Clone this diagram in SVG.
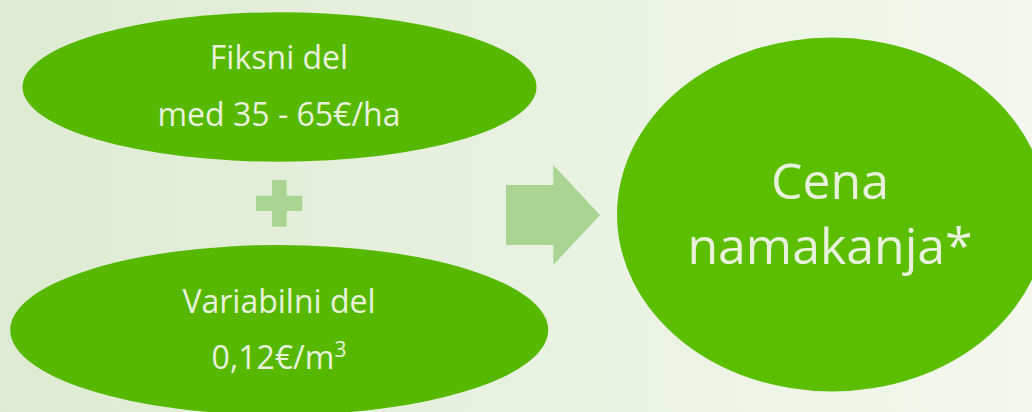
<svg xmlns="http://www.w3.org/2000/svg" width="1032" height="412" viewBox="0 0 1032 412">
  <defs>
    <linearGradient id="bg" x1="0" y1="0" x2="1" y2="0">
      <stop offset="0" stop-color="#deebd2"/>
      <stop offset="1" stop-color="#f3f7ee"/>
    </linearGradient>
    <style>
      .node { fill: #56b900; }
      .big { fill: #5bbf00; }
      .lbl { font-family: "Open Sans", "Noto Sans", sans-serif; fill: #e8f1dc; text-anchor: middle; }
      .s32 { font-size: 32px; }
      .s50 { font-size: 50px; }
      .light { fill: #a9d492; }
    </style>
  </defs>
  <rect width="1032" height="412" fill="url(#bg)"/>

  <g id="fixed">
    <ellipse class="node" cx="279.5" cy="87" rx="257" ry="74.7"/>
    <text class="lbl s32" x="279" y="69">Fiksni del</text>
    <text class="lbl s32" x="279" y="125.7">med 35 - 65€/ha</text>
  </g>

  <g id="plus">
    <rect class="light" x="272" y="180" width="14.7" height="46.7"/>
    <rect class="light" x="256" y="195.7" width="46.3" height="15.3"/>
  </g>

  <g id="variable">
    <ellipse class="node" cx="279.2" cy="330" rx="269" ry="85"/>
    <text class="lbl s32" x="279" y="313.3">Variabilni del</text>
    <text class="lbl s32" x="279" y="369">0,12€/m<tspan font-size="21" dy="-12">3</tspan></text>
  </g>

  <g id="connectors">
    <polygon class="light" points="506,185 553.3,185 553.3,165 600,215 553.3,265 553.3,245 506,245"/>
  </g>

  <g id="price">
    <ellipse class="big" cx="832" cy="214.5" rx="215" ry="177"/>
    <text class="lbl s50" x="830" y="199">Cena</text>
    <text class="lbl s50" x="830" y="264">namakanja*</text>
  </g>
</svg>
